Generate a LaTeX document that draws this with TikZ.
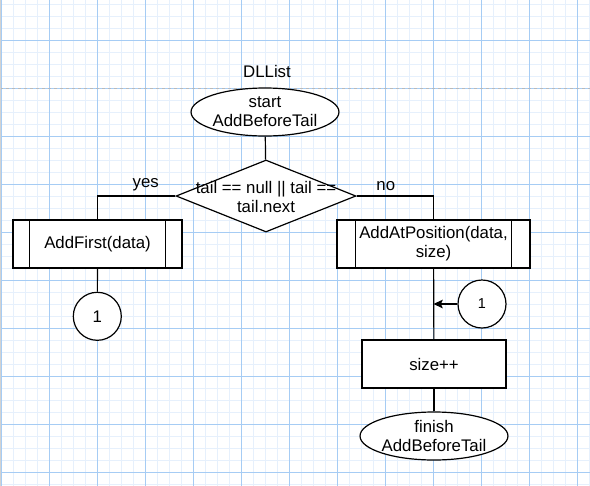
\documentclass[tikz,border=0pt]{standalone}
\usepackage{fontspec}
\setmainfont{Liberation Sans}
\usetikzlibrary{shapes.geometric,arrows.meta}
\definecolor{gridmin}{HTML}{E6F0FC}
\definecolor{gridmaj}{HTML}{A6CCF4}
\begin{document}
\begin{tikzpicture}[x=0.75pt,y=-0.75pt,line width=0.9pt,
    term/.style={ellipse,draw,minimum width=108pt,minimum height=36pt,inner sep=0pt,align=center},
    proc/.style={rectangle,draw,minimum height=36pt,inner sep=0pt,align=center},
    conn/.style={circle,draw,minimum size=36pt,inner sep=0pt},
    txt/.style={font=\fontsize{12.6}{14.3}\selectfont}]
                \useasboundingbox (0,0) rectangle (590,486);
                \foreach \i in {0,...,49} \draw[gridmin,line width=0.75pt] (1.3+12*\i,0) -- (1.3+12*\i,486);
                \foreach \i in {0,...,40} \draw[gridmin,line width=0.75pt] (0,4.3+12*\i) -- (590,4.3+12*\i);
                \foreach \i in {0,...,12} \draw[gridmaj,line width=0.75pt] (1.3+48*\i,0) -- (1.3+48*\i,486);
                \foreach \i in {0,...,9} \draw[gridmaj,line width=0.75pt] (0,40.3+48*\i) -- (590,40.3+48*\i);
                \draw[gray!55,line width=0.75pt,dash pattern=on 2.25pt off 2.25pt] (0,88.3) -- (590,88.3);
                \fill[gray!35] (0,0) rectangle (1,486);
                \node[txt] (title) at (267,71) {DLList};
                \node[term,txt,fill=white] (start) at (265,112) {start\\AddBeforeTail};
                \node[diamond,draw,fill=white,minimum width=135pt,minimum height=54pt,inner sep=0pt] (dec) at (266,196) {};
                \node[txt,align=center] (dectxt) at (266,197) {tail == null || tail ==\\tail.next};
                \node[proc,txt,fill=white,minimum width=126.75pt] (first) at (97.5,244) {AddFirst(data)};
                \draw ([xshift=12.75pt]first.north west) -- ([xshift=12.75pt]first.south west);
                \draw ([xshift=-12.75pt]first.north east) -- ([xshift=-12.75pt]first.south east);
                \node[conn,txt,fill=white] (cA) at (97.3,316.3) {1};
                \node[proc,txt,fill=white,minimum width=144.75pt] (atpos) at (433.5,244) {AddAtPosition(data,\\size)};
                \draw ([xshift=14.25pt]atpos.north west) -- ([xshift=14.25pt]atpos.south west);
                \draw ([xshift=-14.25pt]atpos.north east) -- ([xshift=-14.25pt]atpos.south east);
                \node[conn,fill=white,font=\fontsize{10.8}{12}\selectfont] (cB) at (482,304) {1};
                \node[proc,txt,fill=white,minimum width=108pt] (inc) at (434,364) {size++};
                \node[term,txt,fill=white] (finish) at (434,436) {finish\\AddBeforeTail};
                \coordinate (join) at (atpos.south |- cB);
                \draw (start) -- (dec);
                \draw (dec.west) -| node[txt,above,pos=0.19] {yes} (first.north);
                \draw (dec.east) -| node[txt,above,pos=0.19] {no} (atpos.north);
                \draw (first) -- (cA);
                \draw (atpos) -- (inc);
                \draw[-{Stealth[length=7pt,width=6.5pt,inset=1.5pt]}] (cB) -- (join);
                \draw (inc) -- (finish);
            \end{tikzpicture}
\end{document}
